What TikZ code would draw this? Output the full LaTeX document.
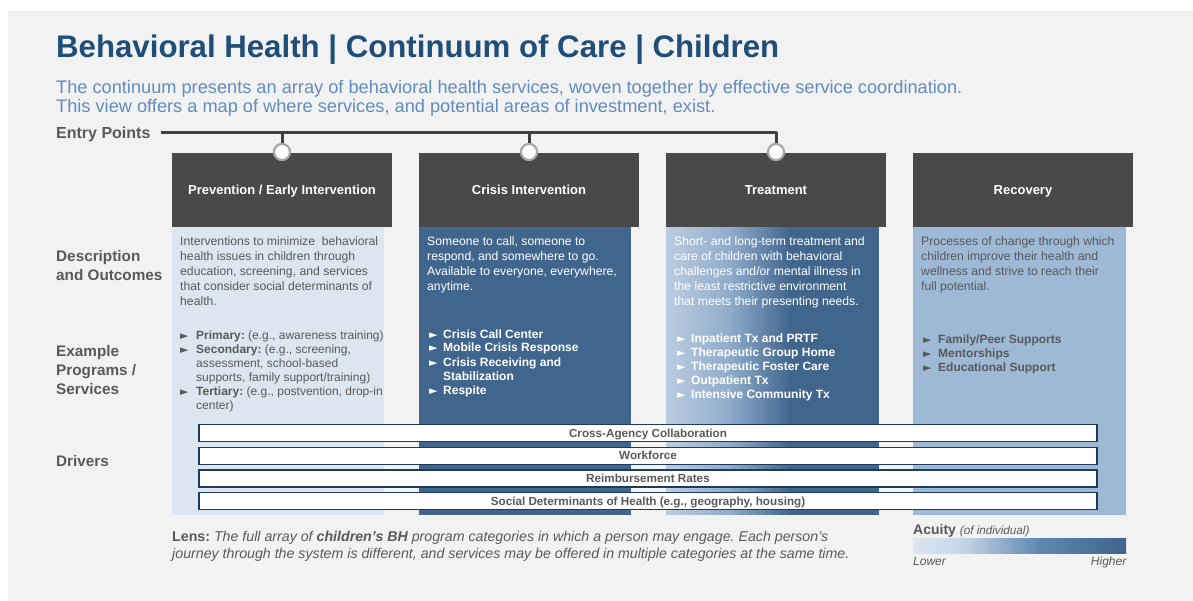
\documentclass[tikz,border=0pt]{standalone}
\usepackage{fontspec}
\setmainfont{Liberation Sans}
\newfontfamily\symf{DejaVu Sans}
\newcommand\fsz[1]{\fontsize{#1}{#1}\selectfont}
\frenchspacing
\definecolor{bggray}{HTML}{F2F2F2}
\definecolor{titleblue}{HTML}{1F4E79}
\definecolor{subblue}{HTML}{608CBE}
\definecolor{txtgray}{HTML}{595959}
\definecolor{hdrgray}{HTML}{494949}
\definecolor{entrygray}{HTML}{404040}
\definecolor{circgray}{HTML}{A6A6A6}
\definecolor{colA}{HTML}{DCE6F1}
\definecolor{colB}{HTML}{41668E}
\definecolor{colCl}{HTML}{BCCDE1}
\definecolor{colCm}{HTML}{8FABCA}
\definecolor{colD}{HTML}{9DB9D5}
\definecolor{navy}{HTML}{1F3B5C}
\definecolor{acu1}{HTML}{DDE6F0}
\definecolor{acu2}{HTML}{C6D5E5}
\definecolor{acu3}{HTML}{5E87B0}
\definecolor{acu4}{HTML}{40638B}
\tikzset{
  hdr/.style={fill=hdrgray, draw=none, minimum width=220pt, minimum height=73.5pt,
    inner sep=0, text=white, font=\bfseries\fsz{13}, text height=9.3pt, text depth=0pt},
  rowlab/.style={anchor=base west, inner sep=0, text=txtgray, font=\bfseries\fsz{15.3}},
  desc/.style={anchor=base west, inner sep=0, font=\fsz{12.2}},
  prog/.style={anchor=base west, inner sep=0, font=\fsz{12}},
  bul/.style={anchor=base west, inner sep=0, font=\symf\fsz{11}},
  entry/.style={draw=entrygray, line width=3pt, line join=round},
  entrycirc/.style={circle, fill=white, draw=circgray, line width=2pt, minimum size=16pt, inner sep=0},
  driver/.style={draw=navy, line width=1.4pt, fill=white, minimum width=898pt, minimum height=17pt,
    inner sep=0, text=txtgray, font=\bfseries\fsz{11.7}, text height=8.3pt, text depth=0pt},
  small/.style={inner sep=0, text=txtgray}
}
\begin{document}
\begin{tikzpicture}[x=1pt,y=-1pt]
\useasboundingbox (0,0) rectangle (1193,601);
\fill[white] (0,0) rectangle (1193,601);
\fill[bggray] (8,11) rectangle (1193,601);

% title & subtitle
\node[anchor=base west, inner sep=0, text=titleblue, font=\bfseries\fsz{31.2}] (title) at (56,58)
  {Behavioral Health | Continuum of Care | Children};
\node[anchor=base west, inner sep=0, text=subblue, font=\fsz{18.2}] (sub1) at (56,93.3)
  {The continuum presents an array of behavioral health services, woven together by effective service coordination.};
\node[anchor=base west, inner sep=0, text=subblue, font=\fsz{18.2}] (sub2) at (56,112.3)
  {This view offers a map of where services, and potential areas of investment, exist.};

% row labels
\node[rowlab, font=\bfseries\fsz{16}] (lab0) at (56,138.7) {Entry Points};
\node[rowlab] (lab1a) at (56,262) {Description};
\node[rowlab] (lab1b) at (56,280.5) {and Outcomes};
\node[rowlab] (lab2a) at (56,356.8) {Example};
\node[rowlab] (lab2b) at (56,375.6) {Programs /};
\node[rowlab] (lab2c) at (56,394.5) {Services};
\node[rowlab] (lab3) at (56,466) {Drivers};

% column bodies
\fill[colA] (172,226) rectangle (384,514.5);
\fill[colB] (419,226) rectangle (631,514.5);
\fill[colB] (666,226) rectangle (879,514.5);
\shade[left color=colCl, right color=colCm] (666,226) rectangle (730,514.5);
\shade[left color=colCm, right color=colB] (730,226) rectangle (790,514.5);
\fill[colD] (913,226) rectangle (1126,514.5);

% headers
\node[hdr] (h1) at (282,190) {Prevention / Early Intervention};
\node[hdr] (h2) at (529,190) {Crisis Intervention};
\node[hdr] (h3) at (776,190) {Treatment};
\node[hdr] (h4) at (1023,190) {Recovery};

% entry points line
\coordinate (ep) at (160.7,132.5);
\coordinate (j1) at (282,132.5);
\coordinate (j2) at (529,132.5);
\coordinate (j3) at (776,132.5);
\node[entrycirc] (c1) at (282,152) {};
\node[entrycirc] (c2) at (529,152) {};
\node[entrycirc] (c3) at (776,152) {};
\draw[entry] (ep) -- (j3) -- (c3.north);
\draw[entry] (j1) -- (c1.north);
\draw[entry] (j2) -- (c2.north);
\node[entrycirc] at (c1) {};
\node[entrycirc] at (c2) {};
\node[entrycirc] at (c3) {};

% descriptions
\foreach \t [count=\i from 0] in {{Interventions to minimize\ \ behavioral},{health issues in children through},{education, screening, and services},{that consider social determinants of},{health.}}
  \node[desc, text=txtgray] (dA\i) at (180,246+15*\i) {\t};
\foreach \t [count=\i from 0] in {{Someone to call, someone to},{respond, and somewhere to go.},{Available to everyone, everywhere,},{anytime.}}
  \node[desc, text=white] (dB\i) at (427,246+15*\i) {\t};
\foreach \t [count=\i from 0] in {{Short- and long-term treatment and},{care of children with behavioral},{challenges and/or mental illness in},{the least restrictive environment},{that meets their presenting needs.}}
  \node[desc, text=white] (dC\i) at (674,246+15*\i) {\t};
\foreach \t [count=\i from 0] in {{Processes of change through which},{children improve their health and},{wellness and strive to reach their},{full potential.}}
  \node[desc, text=txtgray] (dD\i) at (921,246+15*\i) {\t};

% programs column 1
\node[bul, text=txtgray] (bA1) at (180,339) {►};
\node[prog, text=txtgray] (pA1) at (196,339) {\textbf{Primary:} (e.g., awareness training)};
\node[bul, text=txtgray] (bA2) at (180,353) {►};
\node[prog, text=txtgray] (pA2) at (196,353) {\textbf{Secondary:} (e.g., screening,};
\node[prog, text=txtgray] (pA3) at (196,367) {assessment, school-based};
\node[prog, text=txtgray] (pA4) at (196,381) {supports, family support/training)};
\node[bul, text=txtgray] (bA5) at (180,395) {►};
\node[prog, text=txtgray] (pA5) at (196,395) {\textbf{Tertiary:} (e.g., postvention, drop-in};
\node[prog, text=txtgray] (pA6) at (196,409) {center)};

% programs column 2
\node[bul, text=white] (bB1) at (429,338) {►};
\node[prog, text=white, font=\bfseries\fsz{12}] (pB1) at (443,338) {Crisis Call Center};
\node[bul, text=white] (bB2) at (429,352) {►};
\node[prog, text=white, font=\bfseries\fsz{12}] (pB2) at (443,352) {Mobile Crisis Response};
\node[bul, text=white] (bB3) at (429,366) {►};
\node[prog, text=white, font=\bfseries\fsz{12}] (pB3) at (443,366) {Crisis Receiving and};
\node[prog, text=white, font=\bfseries\fsz{12}] (pB4) at (443,380) {Stabilization};
\node[bul, text=white] (bB5) at (429,394) {►};
\node[prog, text=white, font=\bfseries\fsz{12}] (pB5) at (443,394) {Respite};

% programs column 3
\foreach \t [count=\i from 0] in {{Inpatient Tx and PRTF},{Therapeutic Group Home},{Therapeutic Foster Care},{Outpatient Tx},{Intensive Community Tx}}{
  \node[bul, text=white] (bC\i) at (677,342+14*\i) {►};
  \node[prog, text=white, font=\bfseries\fsz{12}] (pC\i) at (691,342+14*\i) {\t};
}

% programs column 4
\foreach \t [count=\i from 0] in {{Family/Peer Supports},{Mentorships},{Educational Support}}{
  \node[bul, text=txtgray] (bD\i) at (923,343+14*\i) {►};
  \node[prog, text=txtgray, font=\bfseries\fsz{12}] (pD\i) at (938,343+14*\i) {\t};
}

% drivers
\node[driver] (dr1) at (648,433) {Cross-Agency Collaboration};
\node[driver] (dr2) at (648,455.8) {Workforce};
\node[driver] (dr3) at (648,478.6) {Reimbursement Rates};
\node[driver] (dr4) at (648,501.2) {Social Determinants of Health (e.g., geography, housing)};

% lens
\node[small, anchor=base west, font=\fsz{14.2}] (lens1) at (172,541)
  {\textbf{Lens:} \textit{The full array of \textbf{children’s BH} program categories in which a person may engage. Each person’s}};
\node[small, anchor=base west, font=\itshape\fsz{14.2}] (lens2) at (172,558.3)
  {journey through the system is different, and services may be offered in multiple categories at the same time.};

% acuity legend
\node[small, anchor=base west, font=\bfseries\fsz{14}] (acu) at (913,534) {Acuity {\mdseries\itshape\fsz{11.7}(of individual)}};
\shade[left color=acu1, right color=acu2] (913,538) rectangle (963,553.3);
\shade[left color=acu2, right color=acu3] (963,538) rectangle (1040,553.3);
\shade[left color=acu3, right color=acu4] (1040,538) rectangle (1126,553.3);
\node[small, anchor=base west, font=\itshape\fsz{12}] (lower) at (913,565) {Lower};
\node[small, anchor=base east, font=\itshape\fsz{12}] (higher) at (1126.5,565) {Higher};
\end{tikzpicture}
\end{document}
